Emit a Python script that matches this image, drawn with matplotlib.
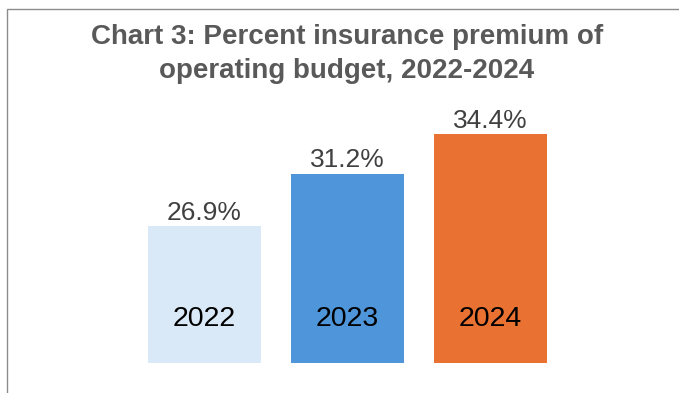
import matplotlib.pyplot as plt
from matplotlib.patches import Rectangle
from matplotlib.transforms import blended_transform_factory

years = ["2022", "2023", "2024"]
pct = [26.9, 31.2, 34.4]
colors = ["#DAE9F8", "#4E95D9", "#E97132"]

plt.rcParams["font.family"] = ["Liberation Sans", "DejaVu Sans"]

fig = plt.figure(figsize=(6.79, 3.93), dpi=100)
ax = fig.add_axes([61.2 / 679, 30.3 / 393, 572.4 / 679, 262.7 / 393])

x = list(range(len(years)))
ax.bar(x, pct, width=0.79, color=colors, bottom=0)
ax.set_xlim(-1, 3)
ax.set_ylim(15.8, 37.2)
ax.axis("off")

# value labels above bars
for i, v in zip(x, pct):
    ax.annotate(f"{v:.1f}%", xy=(i, v), xytext=(0, 1), textcoords="offset points",
                ha="center", va="bottom", fontsize=19, color="#404040")

# year labels inside bars
tr = blended_transform_factory(ax.transData, ax.transAxes)
for i, yr in zip(x, years):
    ax.text(i, 0.168, yr, transform=tr, ha="center", va="center",
            fontsize=20.5, color="black")

fig.text(0.511, 1 - 24 / 393, "Chart 3: Percent insurance premium of\noperating budget, 2022-2024",
         ha="center", va="top", fontsize=20, fontweight="bold", color="#595959",
         linespacing=1.38)

# chart frame (cut off at right and bottom)
fig.patches.append(Rectangle((7 / 679, -0.1), 2, 1.1 - 9 / 393, transform=fig.transFigure,
                             fill=False, edgecolor="#8c8c8c", linewidth=1.0))

fig.savefig("out.png", dpi=100)
